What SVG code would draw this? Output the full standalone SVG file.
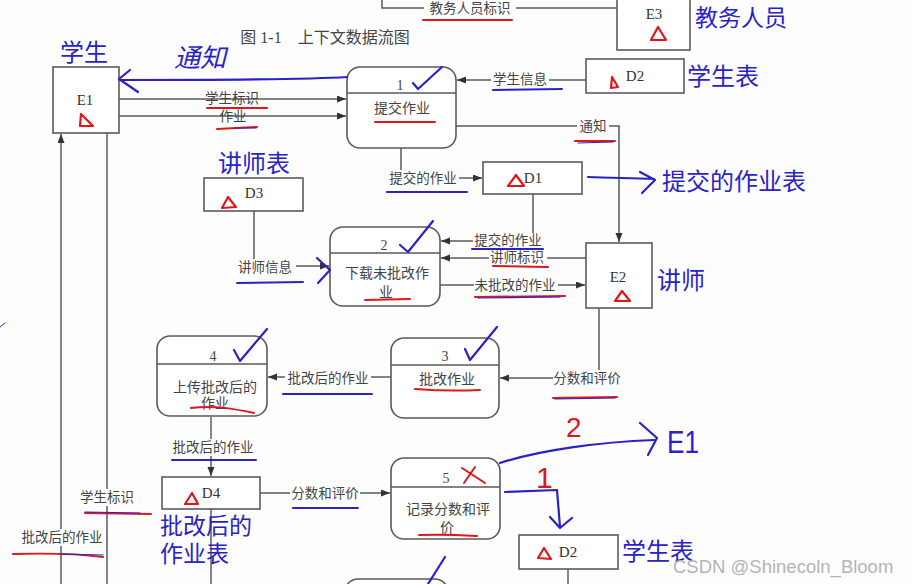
<svg xmlns="http://www.w3.org/2000/svg" width="912" height="584" viewBox="0 0 912 584">
<defs>
<marker id="arr" markerUnits="userSpaceOnUse" markerWidth="10" markerHeight="8" refX="9" refY="3.5" orient="auto"><path d="M0,0 L9,3.5 L0,7 Z" fill="#333"/></marker>
<style>
.bx{fill:#fff;stroke:#5a5a5a;stroke-width:1.6}
.pr{fill:#fff;stroke:#5a5a5a;stroke-width:1.6}
.ln{fill:none;stroke:#5a5a5a;stroke-width:1.5}
.t{font-family:"Liberation Serif","Noto Sans CJK SC",serif;font-size:13.5px;fill:#444;text-anchor:middle}
.tp{font-family:"Liberation Serif","Noto Sans CJK SC",serif;font-size:14px;fill:#444;text-anchor:middle}
.id{font-family:"Liberation Serif","Noto Sans CJK SC",serif;font-size:15px;fill:#333;text-anchor:middle}
.bl{font-family:"Liberation Sans","Noto Sans CJK SC",sans-serif;font-size:24px;fill:#2a22c8}
.lb{fill:#fff}
.ur{fill:none;stroke:#e0161b;stroke-width:2;stroke-linecap:round}
.ub{fill:none;stroke:#2a22c8;stroke-width:2;stroke-linecap:round}
.tr{fill:none;stroke:#e0161b;stroke-width:2.2;stroke-linejoin:round}
.ck{fill:none;stroke:#2a22c8;stroke-width:2.2;stroke-linecap:round;stroke-linejoin:round}
</style>
</defs>
<rect width="912" height="584" fill="#fdfdfd"/>

<text x="325" y="43" class="tp" style="font-size:16px">图 1-1　上下文数据流图</text>

<g id="connectors">
<path class="ln" d="M382,0 V8 H617"/>
<path class="ln" d="M119,99 H346" marker-end="url(#arr)"/>
<path class="ln" d="M119,116 H346" marker-end="url(#arr)"/>
<path class="ln" d="M586,80 H457" marker-end="url(#arr)"/>
<path class="ln" d="M456,126 H619 V242" marker-end="url(#arr)"/>
<path class="ln" d="M401,148 V178 H482" marker-end="url(#arr)"/>
<path class="ln" d="M254,211 V266 H329" marker-end="url(#arr)"/>
<path class="ln" d="M533,194 V241 H441" marker-end="url(#arr)"/>
<path class="ln" d="M586,258 H441" marker-end="url(#arr)"/>
<path class="ln" d="M440,285 H585" marker-end="url(#arr)"/>
<path class="ln" d="M599,308 V378 H500" marker-end="url(#arr)"/>
<path class="ln" d="M391,377 H268" marker-end="url(#arr)"/>
<path class="ln" d="M211,417 V476" marker-end="url(#arr)"/>
<path class="ln" d="M260,493 H390" marker-end="url(#arr)"/>
<path class="ln" d="M211,509 V584"/>
<path class="ln" d="M568,569 V584"/>
<path class="ln" d="M61,584 V134" marker-end="url(#arr)"/>
<path class="ln" d="M107,133 V584"/>

<rect class="lb" x="424" y="0" width="92" height="16"/>
<text class="t" x="470" y="13">教务人员标识</text>
<text class="t" x="232" y="103">学生标识</text>
<text class="t" x="233" y="121">作业</text>
<rect class="lb" x="491" y="71" width="58" height="17"/>
<text class="t" x="520" y="84">学生信息</text>
<rect class="lb" x="577" y="118" width="32" height="17"/>
<text class="t" x="593" y="131">通知</text>
<rect class="lb" x="387" y="170" width="72" height="17"/>
<text class="t" x="423" y="183">提交的作业</text>
<rect class="lb" x="236" y="259" width="60" height="17"/>
<text class="t" x="265" y="272">讲师信息</text>
<rect class="lb" x="473" y="233" width="72" height="16"/>
<text class="t" x="508" y="245">提交的作业</text>
<rect class="lb" x="489" y="250" width="58" height="16"/>
<text class="t" x="517" y="262">讲师标识</text>
<rect class="lb" x="474" y="277" width="84" height="17"/>
<text class="t" x="515" y="290">未批改的作业</text>
<rect class="lb" x="553" y="370" width="70" height="17"/>
<text class="t" x="587" y="383">分数和评价</text>
<rect class="lb" x="285" y="370" width="86" height="17"/>
<text class="t" x="328" y="383">批改后的作业</text>
<rect class="lb" x="170" y="439" width="86" height="17"/>
<text class="t" x="213" y="452">批改后的作业</text>
<rect class="lb" x="290" y="485" width="70" height="17"/>
<text class="t" x="325" y="498">分数和评价</text>
<rect class="lb" x="78" y="489" width="60" height="17"/>
<text class="t" x="107" y="502">学生标识</text>
<rect class="lb" x="18" y="529" width="88" height="17"/>
<text class="t" x="62" y="542">批改后的作业</text>
</g>

<g id="E3">
<rect class="bx" x="617" y="-6" width="73" height="56"/>
<text class="id" x="654" y="19">E3</text>
<path class="tr" d="M658,27 L651,40 L666,40 Z"/>
</g>
<g id="E1">
<rect class="bx" x="53" y="67" width="66" height="66"/>
<text class="id" x="85" y="105">E1</text>
<path class="tr" d="M81,114 L80,126 L93,126 Z"/>
</g>
<g id="P1">
<rect class="pr" x="347" y="67" width="109" height="81" rx="13"/>
<path class="ln" d="M347,93 H456"/>
<text class="tp" x="400" y="90">1</text>
<text class="tp" x="402" y="113">提交作业</text>
</g>
<g id="D2a">
<rect class="bx" x="586" y="59" width="98" height="34"/>
<text class="id" x="635" y="81">D2</text>
<path class="tr" d="M612,77 L611,88 L618,87 Z"/>
</g>
<g id="D1">
<rect class="bx" x="483" y="162" width="99" height="32"/>
<text class="id" x="533" y="183">D1</text>
<path class="tr" d="M516,175 L508,186 L524,186 Z"/>
</g>
<g id="D3">
<rect class="bx" x="204" y="178" width="99" height="33"/>
<text class="id" x="254" y="198">D3</text>
<path class="tr" d="M228,197 L222,208 L236,207 Z"/>
</g>
<g id="P2">
<rect class="pr" x="330" y="227" width="110" height="79" rx="13"/>
<path class="ln" d="M330,253 H440"/>
<text class="tp" x="384" y="250">2</text>
<text class="tp" x="387" y="278">下载未批改作</text>
<text class="tp" x="386" y="297">业</text>
</g>
<g id="E2">
<rect class="bx" x="586" y="243" width="66" height="65"/>
<text class="id" x="618" y="282">E2</text>
<path class="tr" d="M622,291 L615,301 L630,301 Z"/>
</g>
<g id="P3">
<rect class="pr" x="391" y="338" width="108" height="80" rx="13"/>
<path class="ln" d="M391,365 H499"/>
<text class="tp" x="445" y="361">3</text>
<text class="tp" x="447" y="384">批改作业</text>
</g>
<g id="P4">
<rect class="pr" x="157" y="336" width="110" height="80" rx="13"/>
<path class="ln" d="M157,364 H267"/>
<text class="tp" x="213" y="361">4</text>
<text class="tp" x="215" y="392">上传批改后的</text>
<text class="tp" x="215" y="408">作业</text>
</g>
<g id="D4">
<rect class="bx" x="162" y="477" width="98" height="32"/>
<text class="id" x="211" y="498">D4</text>
<path class="tr" d="M192,493 L185,504 L198,504 Z"/>
</g>
<g id="P5">
<rect class="pr" x="391" y="458" width="109" height="81" rx="13"/>
<path class="ln" d="M391,487 H500"/>
<text class="tp" x="446" y="483">5</text>
<text class="tp" x="448" y="514">记录分数和评</text>
<text class="tp" x="447" y="532">价</text>
</g>
<g id="D2b">
<rect class="bx" x="519" y="535" width="99" height="34"/>
<text class="id" x="568" y="557">D2</text>
<path class="tr" d="M544,548 L538,558 L551,559 Z"/>
</g>
<g id="P6">
<rect class="pr" x="345" y="579" width="103" height="30" rx="13"/>
</g>

<g id="annotations">
<text class="bl" x="60" y="61">学生</text>
<text class="bl" x="695" y="26" style="font-size:23px">教务人员</text>
<text class="bl" x="687" y="85">学生表</text>
<text class="bl" x="662" y="190">提交的作业表</text>
<text class="bl" x="218" y="172">讲师表</text>
<text class="bl" x="657" y="289">讲师</text>
<text class="bl" style="font-size:23px"><tspan x="160" y="534">批改后的</tspan><tspan x="160" y="562">作业表</tspan></text>
<text class="bl" x="622" y="560">学生表</text>
<text x="174" y="67" style="font-family:'Noto Sans CJK SC',sans-serif;font-size:26px;fill:#2a22c8;font-style:italic">通知</text>
<text x="566" y="437" style="font-family:'Liberation Sans',sans-serif;font-size:28px;fill:#e0161b">2</text>
<text x="667" y="453" textLength="32" lengthAdjust="spacingAndGlyphs" style="font-family:'Liberation Sans',sans-serif;font-size:32px;fill:#2a22c8">E1</text>
<text x="536" y="488" style="font-family:'Liberation Sans',sans-serif;font-size:30px;fill:#e0161b">1</text>

<path class="ck" d="M347,77 C300,80 200,80 120,80 M130,70 L119,79 L138,92"/>
<path class="ck" d="M588,177 C610,178 630,178 654,179 M640,172 L655,180 L642,193"/>
<path class="ck" d="M317,258 L330,270 L318,283"/>
<path class="ck" d="M500,463 C540,450 600,442 654,440 M640,423 L657,438 L648,455"/>
<path class="ck" d="M505,492 L557,490 L560,527 M550,517 L560,528 L572,518"/>
<path class="ck" d="M445,557 L428,584"/>
<path class="ck" style="stroke-width:1" d="M0,327 L5,323"/>

<path class="ck" d="M413,83 L418,89 L442,67"/>
<path class="ck" d="M400,245 L408,252 L433,221"/>
<path class="ck" d="M465,349 L470,360 L497,327"/>
<path class="ck" d="M234,350 L240,361 L267,329"/>
<path class="ur" d="M462,468 L485,483 M475,467 L464,483"/>

<path class="ur" d="M423,20 L512,20"/>
<path class="ur" d="M207,108 L267,108"/>
<path class="ur" d="M217,129 L257,127"/>
<path class="ub" d="M235,128 L256,128" style="stroke-width:1.2"/>
<path class="ur" d="M375,122 L435,122"/>
<path class="ub" d="M493,90 L562,89"/>
<path class="ur" d="M575,141 L615,141"/>
<path class="ub" d="M578,143 L613,142" style="stroke-width:1.2"/>
<path class="ub" d="M387,192 L467,192"/>
<path class="ub" d="M237,283 L303,282"/>
<path class="ur" d="M365,300 L410,299"/>
<path class="ub" d="M472,249 L543,249"/>
<path class="ur" d="M493,266 L548,267"/>
<path class="ur" d="M475,297 L565,296"/>
<path class="ub" d="M478,298 L560,297" style="stroke-width:1.2"/>
<path class="ur" d="M553,398 L617,397"/>
<path class="ub" d="M555,399 L615,398" style="stroke-width:1.2"/>
<path class="ur" d="M415,389 C440,391 460,391 480,390"/>
<path class="ub" d="M283,394 L372,394"/>
<path class="ur" d="M191,408 C215,405 235,409 254,413"/>
<path class="ub" d="M172,460 L256,460"/>
<path class="ub" d="M293,508 L358,508"/>
<path class="ur" d="M419,535 C440,534 460,535 477,536"/>
<path class="ur" d="M85,513 L151,514"/>
<path class="ub" d="M85,512 L140,513" style="stroke-width:1.2"/>
<path class="ur" d="M13,554 C50,553 80,554 103,557"/>
<path class="ub" d="M60,554 L103,555" style="stroke-width:1.2"/>
</g>

<text x="673" y="573" style="font-family:'Liberation Sans',sans-serif;font-size:18.5px;fill:#b4b4b4">CSDN @Shinecoln_Bloom</text>
</svg>
